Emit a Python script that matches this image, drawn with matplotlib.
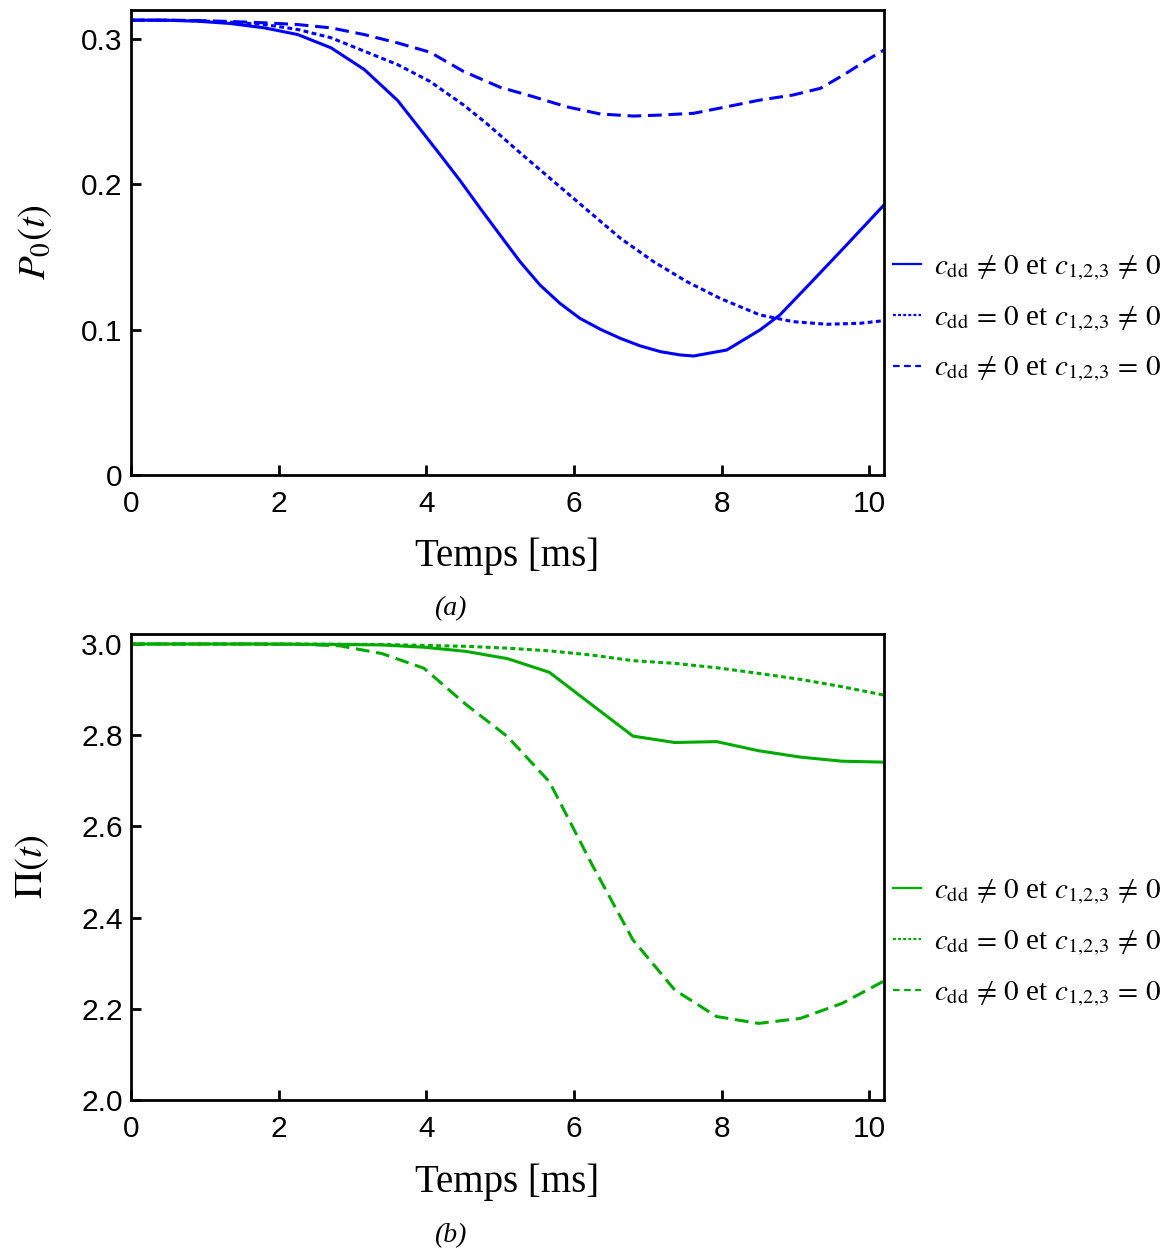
import matplotlib
matplotlib.use("Agg")
import matplotlib.pyplot as plt
from matplotlib.lines import Line2D

plt.rcParams['mathtext.fontset'] = 'stix'

# ---------------- data: panel (a) P0(t) ----------------
t_a_solid = [0, 0.45, 0.9, 1.35, 1.81, 2.26, 2.71, 3.16, 3.61, 3.92, 4.19, 4.46, 4.73,
             5.0, 5.27, 5.54, 5.81, 6.08, 6.36, 6.63, 6.90, 7.17, 7.44, 7.62, 8.07,
             8.52, 8.79, 9.2, 9.65, 10.2]
p0_solid = [0.3126, 0.3126, 0.3119, 0.3103, 0.3073, 0.3027, 0.2936, 0.2787, 0.2575,
            0.2375, 0.2200, 0.2022, 0.1833, 0.1649, 0.1466, 0.1306, 0.1180, 0.1077,
            0.1001, 0.0939, 0.0887, 0.0848, 0.0825, 0.0818, 0.0859, 0.0997, 0.1100,
            0.1317, 0.1558, 0.1856]

t_a_dotted = [0, 0.45, 0.9, 1.35, 1.81, 2.26, 2.71, 3.16, 3.61, 4.05, 4.5, 4.82, 5.27,
              5.72, 6.18, 6.63, 7.08, 7.53, 7.98, 8.52, 8.97, 9.43, 9.88, 10.2]
p0_dotted = [0.3126, 0.3126, 0.3122, 0.3112, 0.3096, 0.3062, 0.3005, 0.2913, 0.2821,
             0.2705, 0.2545, 0.2415, 0.2215, 0.2020, 0.1821, 0.1627, 0.1466, 0.1329,
             0.1214, 0.1100, 0.1054, 0.1036, 0.1043, 0.1061]

t_a_dashed = [0, 0.45, 0.9, 1.35, 1.81, 2.26, 2.71, 3.16, 3.61, 4.05, 4.5, 5.0, 5.45,
              5.9, 6.36, 6.81, 7.17, 7.62, 8.07, 8.52, 8.97, 9.34, 9.65, 9.97, 10.2]
p0_dashed = [0.3126, 0.3126, 0.3124, 0.3117, 0.3108, 0.3096, 0.3073, 0.3027, 0.2970,
             0.2906, 0.2775, 0.2665, 0.2600, 0.2531, 0.2481, 0.2467, 0.2474, 0.2486,
             0.2531, 0.2577, 0.2612, 0.2658, 0.2749, 0.2852, 0.2921]

# ---------------- data: panel (b) Pi(t) ----------------
t_b = [0, 0.567, 1.133, 1.7, 2.267, 2.833, 3.4, 3.967, 4.533, 5.1, 5.667, 6.233,
       6.8, 7.367, 7.933, 8.5, 9.067, 9.633, 10.2]
pi_solid = [3.0, 3.0, 3.0, 3.0, 2.9995, 2.999, 2.998, 2.993, 2.984, 2.968, 2.938, 2.868,
            2.798, 2.784, 2.786, 2.766, 2.752, 2.743, 2.741]
pi_dotted = [3.0, 3.0, 3.0, 3.0, 3.0, 2.9995, 2.999, 2.997, 2.995, 2.991, 2.985, 2.976,
             2.9635, 2.9576, 2.948, 2.9357, 2.9225, 2.9064, 2.888]
pi_dashed = [3.0, 3.0, 3.0, 3.0, 2.9995, 2.996, 2.979, 2.947, 2.868, 2.797, 2.698, 2.52,
             2.351, 2.241, 2.183, 2.168, 2.179, 2.212, 2.261]

labels = [r'$c_{\rm dd}\,\neq\,0$ et $c_{1,\!2,\!3}\,\neq\,0$',
          r'$c_{\rm dd}\,=\,0$ et $c_{1,\!2,\!3}\,\neq\,0$',
          r'$c_{\rm dd}\,\neq\,0$ et $c_{1,\!2,\!3}\,=\,0$']

x_ticks = [0, 2, 4, 6, 8, 10]
a_yticks = [0, 0.1, 0.2, 0.3]
a_yticklabels = ['0', '0.1', '0.2', '0.3']
b_yticks = [2.0, 2.2, 2.4, 2.6, 2.8, 3.0]
b_yticklabels = ['2.0', '2.2', '2.4', '2.6', '2.8', '3.0']

BLUE = '#0000ff'
GREEN = '#00aa00'
LW = 2.2
DOT = (0, (1.6, 1.1))
DASH = (0, (4.5, 2.2))

fig = plt.figure(figsize=(11.69, 12.53), dpi=100)
W, H = 1169, 1253
ax1 = fig.add_axes([131 / W, (H - 475) / H, 753 / W, 465 / H])
ax2 = fig.add_axes([131 / W, (H - 1100) / H, 753 / W, 466 / H])

serif = 'Liberation Serif'
sans = 'Liberation Sans'


def style(ax, yticks, yticklabels, ylim):
    ax.set_xlim(0, 10.2)
    ax.set_ylim(*ylim)
    ax.set_xticks(x_ticks)
    ax.set_xticklabels([str(v) for v in x_ticks])
    ax.set_yticks(yticks)
    ax.set_yticklabels(yticklabels)
    for lab in ax.get_xticklabels() + ax.get_yticklabels():
        lab.set_fontfamily(sans)
        lab.set_fontsize(21.5)
    ax.tick_params(direction='in', length=7, width=2, top=False, right=False)
    ax.tick_params(axis='x', pad=10.5)
    ax.tick_params(axis='y', pad=6)
    for s in ax.spines.values():
        s.set_linewidth(2)
    ax.set_xlabel('Temps [ms]', fontfamily=serif, fontsize=28, va='center')


# panel (a)
ax1.plot(t_a_solid, p0_solid, color=BLUE, lw=LW, ls='-')
ax1.plot(t_a_dotted, p0_dotted, color=BLUE, lw=LW, ls=DOT)
ax1.plot(t_a_dashed, p0_dashed, color=BLUE, lw=LW, ls=DASH)
style(ax1, a_yticks, a_yticklabels, (0, 0.3196))
ax1.xaxis.set_label_coords(0.5, -0.175)
ax1.set_ylabel(r'$P_0(t)$', fontsize=28, va='center')
ax1.yaxis.set_label_coords(-0.127, 0.5)
ax1.text(0.424, -0.288, '(a)', transform=ax1.transAxes, ha='center', va='center',
         fontfamily=serif, fontstyle='italic', fontsize=20)

# panel (b)
ax2.plot(t_b, pi_solid, color=GREEN, lw=LW, ls='-')
ax2.plot(t_b, pi_dotted, color=GREEN, lw=LW, ls=DOT)
ax2.plot(t_b, pi_dashed, color=GREEN, lw=LW, ls=DASH)
style(ax2, b_yticks, b_yticklabels, (2.0, 3.022))
ax2.xaxis.set_label_coords(0.5, -0.177)
ax2.set_ylabel(r'$\Pi(t)$', fontsize=28, va='center')
ax2.yaxis.set_label_coords(-0.131, 0.5)
ax2.text(0.424, -0.29, '(b)', transform=ax2.transAxes, ha='center', va='center',
         fontfamily=serif, fontstyle='italic', fontsize=20)

for ax, col, yc in [(ax1, BLUE, 0.337), (ax2, GREEN, 0.338)]:
    handles = [Line2D([], [], color=col, lw=1.6, ls='-'),
               Line2D([], [], color=col, lw=1.6, ls=(0, (1.3, 1.0))),
               Line2D([], [], color=col, lw=1.6, ls=(0, (3.0, 2.0)))]
    ax.legend(handles, labels, loc='center left', bbox_to_anchor=(1.012, yc),
              frameon=False, borderpad=0, borderaxespad=0, handlelength=0.95,
              handletextpad=0.45, labelspacing=0.7,
              prop={'family': serif, 'size': 21})

fig.savefig('out.png', dpi=100)
